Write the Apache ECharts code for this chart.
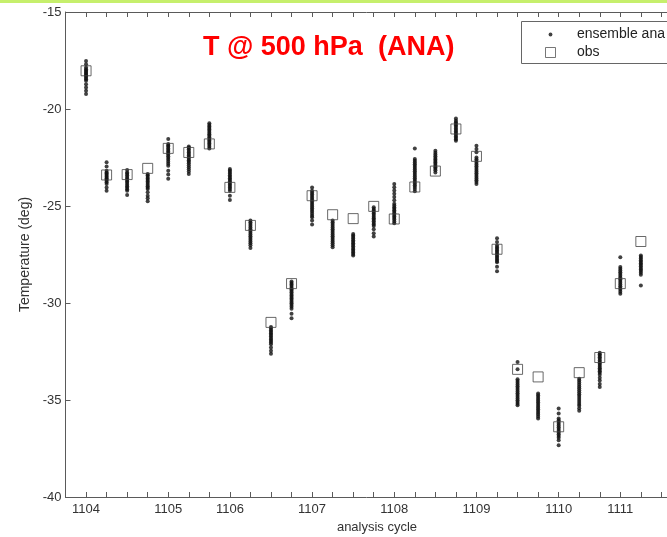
<!DOCTYPE html>
<html>
<head>
<meta charset="utf-8">
<script src="https://cdn.jsdelivr.net/npm/echarts@6/dist/echarts.min.js"></script>
<style>
  html, body { margin: 0; padding: 0; background: #ffffff; }
  #chart { width: 667px; height: 537px; }
</style>
</head>
<body>
<div id="chart"></div>
<script>
// Analysis cycle positions (6-hourly steps along the axis)
const cycleIndex = [0, 1, 2, 3, 4, 5, 6, 7, 8, 9, 10, 11, 12, 13, 14, 15, 16, 17, 18, 19, 20, 21, 22, 23, 24, 25, 26, 27];

// Labelled tick positions and their texts
const tickAt = [0, 4, 7, 11, 15, 19, 23, 26];
const tickText = ['1104', '1105', '1106', '1107', '1108', '1109', '1110', '1111'];

// Observed temperature at 500 hPa (deg)
const obsTemp = [-18.03, -23.4, -23.38, -23.06, -22.03, -22.24, -21.8, -24.04, -26.0, -31.0,
  -29.0, -24.47, -25.45, -25.65, -25.02, -25.67, -24.02, -23.2, -21.03, -22.44,
  -27.23, -33.42, -33.81, -36.38, -33.59, -32.81, -29.0, -26.83];

// Ensemble analysis members for each cycle (deg)
const ensembleTemp = [
  [-17.52, -17.69, -17.86, -17.95, -18.02, -18.08, -18.14, -18.2, -18.26, -18.33, -18.4, -18.47, -18.55, -18.72, -18.89, -19.06, -19.23],
  [-22.74, -22.96, -23.18, -23.27, -23.33, -23.39, -23.45, -23.51, -23.57, -23.63, -23.7, -23.77, -23.86, -24.04, -24.21],
  [-23.14, -23.27, -23.34, -23.42, -23.5, -23.58, -23.66, -23.74, -23.82, -23.9, -23.98, -24.06, -24.14, -24.21, -24.43],
  [-23.35, -23.42, -23.5, -23.58, -23.66, -23.74, -23.82, -23.9, -23.98, -24.06, -24.12, -24.29, -24.47, -24.6, -24.76],
  [-21.55, -21.81, -21.88, -21.95, -22.03, -22.11, -22.19, -22.27, -22.35, -22.44, -22.53, -22.62, -22.72, -22.82, -22.92, -23.18, -23.38, -23.6],
  [-21.93, -22.0, -22.08, -22.16, -22.24, -22.32, -22.4, -22.48, -22.56, -22.64, -22.72, -22.8, -22.9, -23.0, -23.1, -23.22, -23.35],
  [-20.74, -20.82, -20.9, -20.98, -21.06, -21.14, -21.22, -21.3, -21.38, -21.46, -21.54, -21.62, -21.7, -21.78, -21.86, -21.94, -22.03],
  [-23.09, -23.17, -23.25, -23.33, -23.41, -23.49, -23.57, -23.65, -23.73, -23.81, -23.89, -23.97, -24.05, -24.13, -24.21, -24.47, -24.69],
  [-25.75, -25.84, -25.93, -26.02, -26.11, -26.2, -26.29, -26.38, -26.47, -26.56, -26.65, -26.74, -26.83, -26.92, -27.02, -27.16],
  [-31.24, -31.32, -31.4, -31.48, -31.56, -31.64, -31.72, -31.8, -31.88, -31.96, -32.04, -32.12, -32.29, -32.46, -32.61],
  [-28.89, -28.97, -29.05, -29.13, -29.21, -29.29, -29.37, -29.45, -29.53, -29.61, -29.69, -29.77, -29.85, -29.93, -30.01, -30.1, -30.19, -30.29, -30.55, -30.78],
  [-24.04, -24.21, -24.3, -24.39, -24.48, -24.57, -24.66, -24.75, -24.84, -24.93, -25.02, -25.11, -25.2, -25.3, -25.4, -25.5, -25.58, -25.75, -25.96],
  [-25.75, -25.84, -25.93, -26.02, -26.11, -26.2, -26.29, -26.38, -26.47, -26.56, -26.65, -26.74, -26.83, -26.92, -27.02, -27.12],
  [-26.44, -26.52, -26.6, -26.68, -26.76, -26.84, -26.92, -27.0, -27.08, -27.16, -27.24, -27.32, -27.4, -27.48, -27.55],
  [-25.07, -25.15, -25.23, -25.31, -25.39, -25.47, -25.55, -25.63, -25.71, -25.79, -25.87, -25.95, -26.03, -26.2, -26.4, -26.57],
  [-23.86, -24.03, -24.2, -24.37, -24.54, -24.71, -24.89, -24.98, -25.06, -25.14, -25.22, -25.3, -25.38, -25.46, -25.54, -25.62, -25.7, -25.8, -25.89],
  [-22.03, -22.58, -22.67, -22.76, -22.85, -22.94, -23.03, -23.12, -23.21, -23.3, -23.39, -23.48, -23.57, -23.66, -23.75, -23.84, -23.93, -24.02, -24.12, -24.24],
  [-22.15, -22.25, -22.34, -22.43, -22.52, -22.6, -22.68, -22.76, -22.84, -22.92, -23.0, -23.08, -23.16, -23.27],
  [-20.49, -20.6, -20.68, -20.76, -20.84, -20.92, -21.0, -21.08, -21.16, -21.24, -21.32, -21.4, -21.48, -21.56, -21.64],
  [-21.89, -22.06, -22.23, -22.5, -22.59, -22.68, -22.77, -22.86, -22.95, -23.04, -23.13, -23.22, -23.31, -23.4, -23.49, -23.58, -23.67, -23.76, -23.86],
  [-26.66, -26.86, -27.04, -27.12, -27.2, -27.28, -27.36, -27.44, -27.52, -27.6, -27.68, -27.76, -27.84, -27.9, -28.13, -28.36],
  [-33.04, -33.42, -33.93, -34.02, -34.11, -34.2, -34.29, -34.38, -34.47, -34.56, -34.65, -34.74, -34.83, -34.92, -35.01, -35.1, -35.19, -35.27],
  [-34.67, -34.76, -34.85, -34.94, -35.03, -35.12, -35.21, -35.3, -35.39, -35.48, -35.57, -35.66, -35.75, -35.85, -35.95],
  [-35.44, -35.7, -35.95, -36.04, -36.13, -36.22, -36.31, -36.4, -36.49, -36.58, -36.67, -36.76, -36.85, -36.94, -37.07, -37.33],
  [-33.9, -34.0, -34.1, -34.2, -34.3, -34.4, -34.5, -34.6, -34.7, -34.8, -34.9, -35.0, -35.1, -35.2, -35.3, -35.42, -35.56],
  [-32.56, -32.64, -32.72, -32.8, -32.88, -32.96, -33.04, -33.12, -33.2, -33.28, -33.36, -33.44, -33.52, -33.6, -33.7, -33.85, -34.0, -34.17, -34.33],
  [-27.64, -28.15, -28.24, -28.33, -28.42, -28.51, -28.6, -28.69, -28.78, -28.87, -28.96, -29.05, -29.14, -29.23, -29.32, -29.42, -29.52],
  [-27.55, -27.63, -27.71, -27.79, -27.87, -27.95, -28.03, -28.11, -28.19, -28.27, -28.35, -28.44, -28.54, -29.1]
];

const FONT = 'Liberation Sans, Arial, Helvetica, sans-serif';
const AXIS_GRAY = '#5a5a5a';
const TEXT_GRAY = '#333333';

// Legend icons: a small dot and an open square, both inside a 10x10 frame
const DOT_ICON = 'path://M0 0M10 10M5 3.1A1.9 1.9 0 1 1 5 6.9A1.9 1.9 0 1 1 5 3.1Z';
const SQUARE_ICON = 'path://M0 0L10 0L10 10L0 10Z';

const ensemblePoints = [];
ensembleTemp.forEach(function (members, i) {
  members.forEach(function (v) { ensemblePoints.push([cycleIndex[i], v]); });
});
const obsPoints = obsTemp.map(function (v, i) { return [cycleIndex[i], v]; });

function cycleLabel(value) {
  const idx = tickAt.indexOf(Math.round(value));
  return idx >= 0 ? tickText[idx] : '';
}

function frameAxis() {
  return {
    axisLine: { show: true, onZero: false, lineStyle: { color: AXIS_GRAY, width: 1 } },
    axisTick: { show: true, inside: true, length: 5, lineStyle: { color: AXIS_GRAY, width: 1 } },
    splitLine: { show: false }
  };
}

const chart = echarts.init(document.getElementById('chart'), null, { renderer: 'canvas' });

chart.setOption({
  backgroundColor: '#ffffff',
  animation: false,
  title: {
    text: 'T @ 500 hPa  (ANA)',
    left: 203,
    top: 34,
    padding: 0,
    textStyle: { color: '#ff0000', fontSize: 27, fontWeight: 'bold', fontFamily: FONT }
  },
  graphic: [
    { type: 'rect', left: 0, top: 0, shape: { width: 667, height: 3 }, style: { fill: '#c6ef6c' }, silent: true }
  ],
  legend: {
    data: [
      { name: 'ensemble ana', icon: DOT_ICON, itemStyle: { color: '#111111', borderWidth: 0 } },
      { name: 'obs', icon: SQUARE_ICON, itemStyle: { color: 'rgba(0,0,0,0)', borderColor: '#555555', borderWidth: 1 } }
    ],
    orient: 'vertical',
    left: 521.5,
    top: 21.5,
    padding: [6, 100, 4, 23.5],
    itemGap: 4,
    itemWidth: 43,
    itemHeight: 10,
    symbolKeepAspect: true,
    borderColor: '#666666',
    borderWidth: 1,
    backgroundColor: '#ffffff',
    textStyle: { color: '#222222', fontSize: 14, fontFamily: FONT }
  },
  // The plot frame runs on past the right edge of the canvas
  grid: { left: 65.5, top: 12, width: 637, height: 485, containLabel: false, outerBoundsMode: 'none' },
  xAxis: [
    Object.assign({
      type: 'value',
      min: -1,
      max: 30,
      interval: 1,
      position: 'bottom',
      name: 'analysis cycle',
      nameLocation: 'middle',
      nameGap: 23,
      nameTextStyle: { color: TEXT_GRAY, fontSize: 13, fontFamily: FONT, padding: [0, 14, 0, 0] },
      axisLabel: {
        show: true, margin: 6, color: TEXT_GRAY, fontSize: 13, fontFamily: FONT,
        showMinLabel: true, showMaxLabel: true, formatter: cycleLabel
      }
    }, frameAxis()),
    Object.assign({
      type: 'value',
      min: -1,
      max: 30,
      interval: 1,
      position: 'top',
      axisLabel: { show: false }
    }, frameAxis())
  ],
  yAxis: [
    Object.assign({
      type: 'value',
      min: -40,
      max: -15,
      interval: 5,
      position: 'left',
      name: 'Temperature (deg)',
      nameLocation: 'middle',
      nameGap: 29,
      nameTextStyle: { color: TEXT_GRAY, fontSize: 14, fontFamily: FONT },
      axisLabel: { margin: 4, color: TEXT_GRAY, fontSize: 13, fontFamily: FONT }
    }, frameAxis())
  ],
  series: [
    {
      name: 'ensemble ana',
      type: 'scatter',
      xAxisIndex: 0,
      yAxisIndex: 0,
      data: ensemblePoints,
      symbol: 'circle',
      symbolSize: 4,
      itemStyle: { color: '#111111' },
      z: 2
    },
    {
      name: 'obs',
      type: 'scatter',
      xAxisIndex: 0,
      yAxisIndex: 0,
      data: obsPoints,
      symbol: 'rect',
      symbolSize: 10,
      itemStyle: { color: 'rgba(0,0,0,0)', borderColor: '#444444', borderWidth: 1 },
      z: 3
    }
  ]
});
</script>
</body>
</html>
